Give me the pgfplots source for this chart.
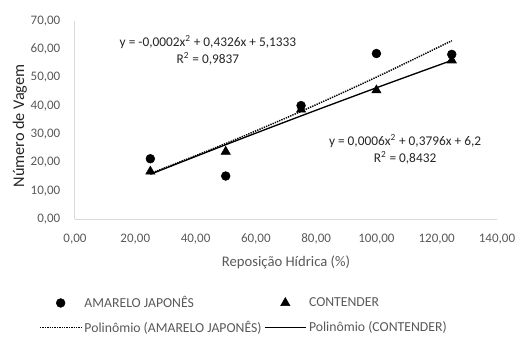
\documentclass[border=0pt]{standalone}
\usepackage{fontspec}
\setmainfont{Carlito}
\usepackage{pgfplots}
\pgfplotsset{compat=1.18}
\definecolor{txt}{HTML}{595959}
\definecolor{axl}{HTML}{D9D9D9}
\definecolor{eqc}{HTML}{262626}
\pgfplotsset{
  markleg/.style={legend image code/.code={\draw[##1] plot coordinates {(15.5pt,0pt)}; \path (0pt,0pt) (31pt,0pt);}},
  lineleg/.style={legend image code/.code={\draw[##1] (0pt,0pt) -- (31pt,0pt);}},
}
\begin{document}
\begin{tikzpicture}[font=\fontsize{9.75pt}{12pt}\selectfont]
\useasboundingbox (-56.25pt,-90.75pt) rectangle (333pt,164.25pt);
\begin{axis}[
  at={(0,0)}, anchor=south west,
  scale only axis, width=316.5pt, height=148.5pt,
  xmin=0, xmax=140, ymin=0, ymax=70,
  xtick={0,20,...,140}, ytick={0,10,...,70},
  axis lines*=left, axis line style={-, draw=axl, line width=0.75pt},
  major tick length=0pt,
  tick label style={text=txt, font=\fontsize{9.75pt}{12pt}\selectfont},
  /pgf/number format/.cd, fixed, fixed zerofill, precision=2, use comma, 1000 sep={}, assume math mode=true,
  /pgfplots/.cd,
  xticklabel style={yshift=-7.5pt},
  yticklabel style={xshift=-7.5pt},
  clip=false,
  legend style={draw=none, fill=none, at={(-27pt,-56pt)}, anchor=north west,
    font=\fontsize{10.3pt}{12pt}\selectfont, text=txt,
    /tikz/every even column/.append style={column sep=0pt},
    row sep=5pt, inner sep=0pt, nodes={inner sep=1.8pt}},
  legend columns=2,
  legend cell align=left,
]
\addplot[only marks, mark=*, mark size=3.3pt, black, markleg]
  coordinates {(25,21.3) (50,15.2) (75,40.1) (100,58.5) (125,58.2)};
\addlegendentry{AMARELO JAPONÊS}
\addplot[only marks, mark=triangle*, mark size=4pt, black, markleg]
  coordinates {(25,16.8) (50,23.8) (75,38.7) (100,45.5) (125,56.1)};
\addlegendentry{CONTENDER}
\addplot[black, line width=1.1pt, dash pattern=on 1pt off 0.8pt, smooth, no marks, lineleg]
  coordinates {(25,16.07) (50,26.68) (75,38.05) (100,50.16) (125,63.03)};
\addlegendentry{Polinômio (AMARELO JAPONÊS)}
\addplot[black, line width=1pt, smooth, no marks, lineleg]
  coordinates {(25,15.82) (50,26.26) (75,36.45) (100,46.39) (125,56.08)};
\addlegendentry{Polinômio (CONTENDER)}
\node[align=center, text=eqc, font=\fontsize{10pt}{13pt}\selectfont] at (axis cs:44.1,59.7)
  {y = -0,0002x\textsuperscript{2} + 0,4326x + 5,1333\\R\textsuperscript{2} = 0,9837};
\node[align=center, text=eqc, font=\fontsize{10pt}{13pt}\selectfont] at (axis cs:109.5,24.6)
  {y = 0,0006x\textsuperscript{2} + 0,3796x + 6,2\\R\textsuperscript{2} = 0,8432};
\end{axis}
\node[text=txt, font=\fontsize{11pt}{13pt}\selectfont] at (158.25pt,-32.25pt) {Reposição Hídrica (\%)};
\node[text=eqc, rotate=90, font=\fontsize{12.2pt}{14pt}\selectfont] at (-41.25pt,69.75pt) {Número de Vagem};
\end{tikzpicture}
\end{document}
